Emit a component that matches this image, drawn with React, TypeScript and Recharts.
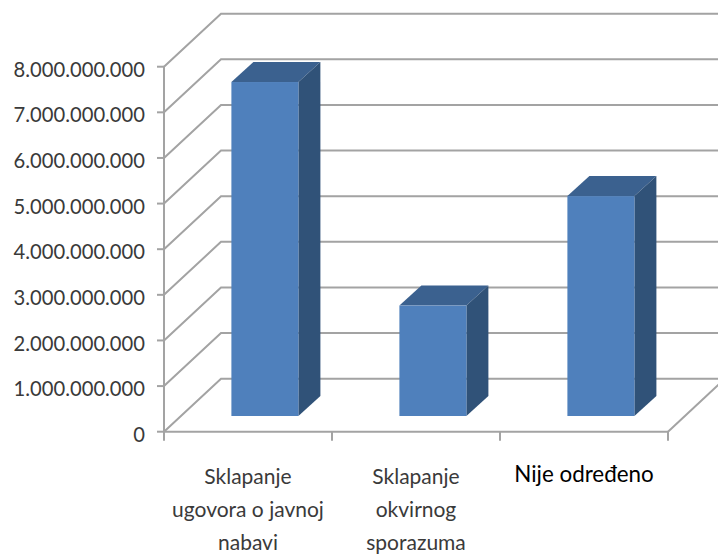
import React from 'react';
import { BarChart, Bar, XAxis, YAxis, CartesianGrid } from 'recharts';

const categories = ['Sklapanje ugovora o javnoj nabavi', 'Sklapanje okvirnog sporazuma', 'Nije određeno'];
const categoryLines = [
  ['Sklapanje', 'ugovora o javnoj', 'nabavi'],
  ['Sklapanje', 'okvirnog', 'sporazuma'],
  ['Nije određeno'],
];
const values = [7320000000, 2420000000, 4820000000];
const yTicks = [0, 1000000000, 2000000000, 3000000000, 4000000000, 5000000000, 6000000000, 7000000000, 8000000000];

const chartData = categories.map((name, i) => ({ name, value: values[i] }));

const WALL_DX = 57;
const WALL_DY = 53;
const BAR_DX = 17;
const BAR_DY = 15.7;
const DEPTH_DX = 22;
const DEPTH_DY = 20;
const GRID = '#a3a3a3';

const formatTick = (v: number) => String(v).replace(/\B(?=(\d{3})+$)/g, '.');

// horizontal grid line bent back along the side wall
const GridLine = (props: any) => {
  const { x1, y1, x2, y, height } = props;
  const isFloor = Math.abs(y1 - (y + height)) < 1;
  return (
    <g fill="none" stroke={GRID} strokeWidth={2}>
      <polyline points={`${x1},${y1} ${x1 + WALL_DX},${y1 - WALL_DY} ${x2 + WALL_DX},${y1 - WALL_DY}`} />
      {isFloor && <line x1={x2} y1={y1} x2={x2 + WALL_DX} y2={y1 - WALL_DY} />}
    </g>
  );
};

const Bar3D = (props: any) => {
  const { x, y, width, height } = props;
  const left = x + BAR_DX;
  const right = left + width;
  const top = y - BAR_DY;
  const bottom = top + height;
  return (
    <g>
      <polygon
        points={`${left},${top} ${right},${top} ${right + DEPTH_DX},${top - DEPTH_DY} ${left + DEPTH_DX},${top - DEPTH_DY}`}
        fill="#3b618f"
      />
      <polygon
        points={`${right},${top} ${right + DEPTH_DX},${top - DEPTH_DY} ${right + DEPTH_DX},${bottom - DEPTH_DY} ${right},${bottom}`}
        fill="#305278"
      />
      <rect x={left} y={top} width={width} height={height} fill="#4f80bc" />
    </g>
  );
};

const CategoryTick = (props: any) => {
  const { x, y, index, payload } = props;
  const half = payload.offset;
  const lines = categoryLines[index];
  const single = lines.length === 1;
  return (
    <g>
      {index === 0 && <line x1={x - half} y1={y} x2={x - half} y2={y + 9} stroke={GRID} strokeWidth={2} />}
      <line x1={x + half} y1={y} x2={x + half} y2={y + 9} stroke={GRID} strokeWidth={2} />
      <text
        textAnchor="middle"
        fontFamily="Lato"
        fontSize={single ? 22.4 : 21}
        fill={single ? '#000000' : '#3a3a3a'}
      >
        {lines.map((line, i) => (
          <tspan key={line} x={x} y={y + (single ? 50.5 : 52) + i * 33}>
            {line}
          </tspan>
        ))}
      </text>
    </g>
  );
};

export default function App() {
  return (
    <div style={{ position: 'absolute', left: 0, top: 0, width: 718, height: 556, background: '#fff', overflow: 'hidden' }}>
      <BarChart
        width={718}
        height={556}
        data={chartData}
        margin={{ top: 66.7, right: 50, bottom: 0, left: 0 }}
        barCategoryGap="30%"
      >
        <CartesianGrid vertical={false} horizontal={(p: any) => <GridLine key={p.key} {...p} />} />
        <XAxis
          dataKey="name"
          height={124.3}
          interval={0}
          axisLine={{ stroke: GRID, strokeWidth: 2 }}
          tickLine={false}
          tickSize={0}
          tickMargin={0}
          tick={CategoryTick}
        />
        <YAxis
          width={164}
          domain={[0, 8000000000]}
          ticks={yTicks}
          interval={0}
          tickFormatter={formatTick}
          axisLine={{ stroke: GRID, strokeWidth: 2 }}
          tickLine={{ stroke: GRID, strokeWidth: 2 }}
          tickSize={7}
          tickMargin={12}
          tick={{ fontFamily: 'Lato', fontSize: 20.2, fill: '#3a3a3a', dy: 3 }}
        />
        <Bar dataKey="value" isAnimationActive={false} shape={Bar3D} />
      </BarChart>
    </div>
  );
}
